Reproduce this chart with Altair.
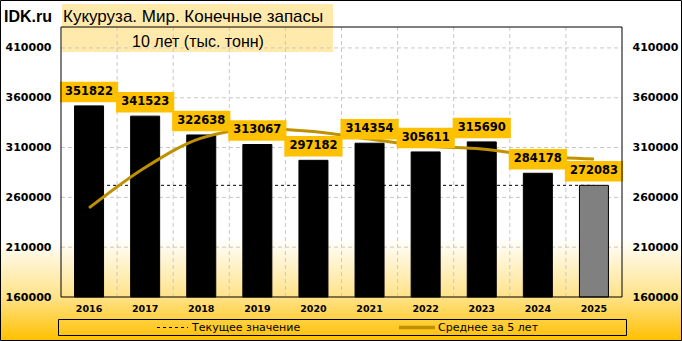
import altair as alt
import pandas as pd

years = ["2016", "2017", "2018", "2019", "2020", "2021", "2022", "2023", "2024", "2025"]
stocks = [351822, 341523, 322638, 313067, 297182, 314354, 305611, 315690, 284178, 272083]
avg5 = [249400, 290000, 319500, 328500, 326000, 318500, 311500, 308500, 301500, 298500]
y_ticks = [160000, 210000, 260000, 310000, 360000, 410000]
brand = "IDK.ru"
title_text = "Кукуруза. Мир. Конечные запасы"
subtitle_text = "10 лет (тыс. тонн)"
legend_current = "Текущее значение"
legend_avg = "Среднее за 5 лет"

W, H = 561, 270
Y_DOMAIN = [160000, 431000]
GOLD = "#BF9000"
LABEL_BG = "#FFC000"
FONT = "DejaVu Sans"
STEP = W / len(years)

df = pd.DataFrame({
    "year": years,
    "value": stocks,
    "avg": avg5,
    "current": [stocks[-1]] * len(years),
})
df["label"] = df["value"].astype(str)
hgrid_df = pd.DataFrame({"tick": y_ticks[1:]})
vgrid_df = pd.DataFrame({"year": years[1:]})
one = pd.DataFrame({"k": [0]})

x_scale = alt.Scale(domain=years, paddingInner=0, paddingOuter=0)
y_scale = alt.Scale(domain=Y_DOMAIN, nice=False, zero=False)
x_axis = alt.Axis(labelAngle=0, labelFont=FONT, labelFontWeight="bold", labelFontSize=9.5,
                  labelColor="black", ticks=False, domain=False, grid=False,
                  labelPadding=6, zindex=1, title=None)


def xenc():
    return alt.X("year:N", scale=x_scale, axis=x_axis, title=None)


def yaxis(orient):
    return alt.Axis(values=y_ticks, orient=orient, grid=False, ticks=False, domain=False,
                    labelPadding=10, labelFont=FONT, labelFontWeight="bold", labelFontSize=11,
                    labelColor="black", zindex=1, format="d", title=None)


gradient = alt.Gradient(
    gradient="linear",
    stops=[
        alt.GradientStop(color="#FFFFFF", offset=0),
        alt.GradientStop(color="#FFFFFF", offset=0.70),
        alt.GradientStop(color="#FFE38A", offset=0.87),
        alt.GradientStop(color="#FFC000", offset=1),
    ],
    x1=0, x2=0, y1=0, y2=1,
)

bg = alt.Chart(one).mark_rect(fill=gradient, stroke="black", strokeWidth=1).encode(
    x=alt.value(-60.5), x2=alt.value(620.5), y=alt.value(-26.5), y2=alt.value(313.5)
)

title_box = alt.Chart(one).mark_rect(fill="#FFD966", opacity=0.55).encode(
    x=alt.value(1), x2=alt.value(272), y=alt.value(-23), y2=alt.value(25)
)

hgrid = alt.Chart(hgrid_df).mark_rule(color="#C8C8C8", strokeDash=[4, 3], strokeWidth=1).encode(
    x=alt.value(0), x2=alt.value(W),
    y=alt.Y("tick:Q", scale=y_scale, axis=None),
)

vgrid = alt.Chart(vgrid_df).mark_rule(
    color="#C8C8C8", strokeDash=[4, 3], strokeWidth=1, xOffset=-STEP / 2
).encode(
    x=xenc(),
    y=alt.value(0), y2=alt.value(H),
)

current_line = alt.Chart(df).mark_line(color="black", strokeDash=[3, 3], strokeWidth=1).encode(
    x=xenc(),
    y=alt.Y("current:Q", scale=y_scale, axis=None),
)

bars = alt.Chart(df).mark_bar(width=29, stroke="black", strokeWidth=1).encode(
    x=xenc(),
    y=alt.Y("value:Q", scale=y_scale, axis=yaxis("left")),
    y2=alt.datum(Y_DOMAIN[0]),
    color=alt.condition(alt.datum.year == years[-1], alt.value("#808080"), alt.value("black")),
)

avg_line = alt.Chart(df).mark_line(color=GOLD, strokeWidth=3, interpolate="monotone").encode(
    x=xenc(),
    y=alt.Y("avg:Q", scale=y_scale, axis=None),
)

label_boxes = alt.Chart(df).mark_point(
    shape="M-1.42,-0.5H1.42V0.5H-1.42Z", size=1681, filled=True, fill=LABEL_BG,
    opacity=1, strokeWidth=0, yOffset=-14,
).encode(
    x=xenc(),
    y=alt.Y("value:Q", scale=y_scale, axis=None),
)

label_text = alt.Chart(df).mark_text(
    font=FONT, fontWeight="bold", fontSize=11.5, color="black", baseline="middle", dy=-14
).encode(
    x=xenc(),
    y=alt.Y("value:Q", scale=y_scale, axis=yaxis("right")),
    text="label:N",
)

border = alt.Chart(one).mark_rect(fill=None, stroke="black", strokeWidth=1).encode(
    x=alt.value(0), x2=alt.value(W), y=alt.value(0), y2=alt.value(H)
)

brand_t = alt.Chart(one).mark_text(
    text=brand, font="Liberation Sans", fontWeight="bold", fontSize=16, align="left",
    baseline="middle", color="black"
).encode(x=alt.value(-57), y=alt.value(-10))

title_t = alt.Chart(one).mark_text(
    text=title_text, font="Liberation Sans", fontSize=17, align="left", baseline="middle", color="black"
).encode(x=alt.value(2), y=alt.value(-10))

subtitle_t = alt.Chart(one).mark_text(
    text=subtitle_text, font="Liberation Sans", fontSize=16, align="center", baseline="middle", color="black"
).encode(x=alt.value(137), y=alt.value(14.5))

legend_box = alt.Chart(one).mark_rect(fill=None, stroke="black", strokeWidth=1).encode(
    x=alt.value(-2.5), x2=alt.value(565.5), y=alt.value(292.5), y2=alt.value(308.5)
)
legend_dash = alt.Chart(one).mark_rule(color="black", strokeDash=[3, 3], strokeWidth=1).encode(
    x=alt.value(96), x2=alt.value(127), y=alt.value(300.5)
)
legend_gold = alt.Chart(one).mark_rule(color=GOLD, strokeWidth=3.5).encode(
    x=alt.value(338), x2=alt.value(374), y=alt.value(300.5)
)
legend_t1 = alt.Chart(one).mark_text(
    text=legend_current, font=FONT, fontSize=11, fontWeight=500, align="left", baseline="middle",
    color="black"
).encode(x=alt.value(131), y=alt.value(300.5))
legend_t2 = alt.Chart(one).mark_text(
    text=legend_avg, font=FONT, fontSize=11, fontWeight=500, align="left", baseline="middle",
    color="black"
).encode(x=alt.value(377), y=alt.value(300.5))

chart = alt.layer(
    bg, title_box, hgrid, vgrid, current_line, bars, avg_line, label_boxes, label_text, border,
    brand_t, title_t, subtitle_t, legend_box, legend_dash, legend_gold, legend_t1, legend_t2,
).resolve_axis(y="independent").properties(
    width=W, height=H,
    autosize=alt.AutoSizeParams(type="none"),
    padding={"left": 61, "top": 27, "right": 60, "bottom": 44},
).configure_view(stroke=None)

chart.save("out.html", embed_options={"renderer": "svg", "actions": False})
